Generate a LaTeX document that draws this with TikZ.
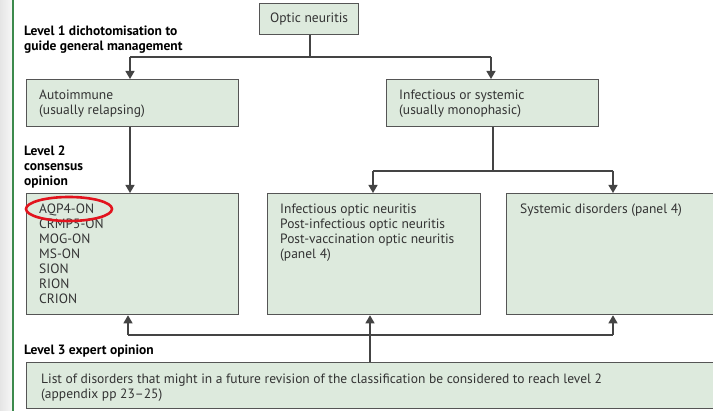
\documentclass[tikz,border=0pt]{standalone}
\usepackage{fontspec}
\setmainfont{PT Sans}
\usetikzlibrary{arrows.meta,shapes.geometric}
\definecolor{boxfill}{HTML}{DDEADD}
\definecolor{boxline}{HTML}{555555}
\definecolor{conn}{HTML}{444444}
\definecolor{framegreen}{HTML}{3C8A4C}
\definecolor{markred}{HTML}{E2141E}
\definecolor{txt}{HTML}{333333}
\tikzset{
  x=1pt, y=-1pt,
  box/.style={draw=boxline, line width=1.3pt, fill=boxfill, anchor=north west, inner sep=0pt},
  boxtext/.style={anchor=north west, inner sep=0pt, align=left, text=txt, font=\fontsize{13.5}{15}\selectfont},
  lvl/.style={anchor=north west, inner sep=0pt, align=left, text=black, font=\fontsize{13.5}{15}\selectfont\bfseries},
  conline/.style={draw=conn, line width=1.2pt},
  arr/.style={conline, -{Triangle[width=9pt,length=8pt]}},
}
\begin{document}
\begin{tikzpicture}
\useasboundingbox (0,0) rectangle (713,411);
\clip (0,0) rectangle (713,411);
\fill[white] (0,0) rectangle (713,411);
% left strip
\shade[left color=gray!20, right color=gray!7] (0,0) rectangle (12,411);
\draw[framegreen, line width=1.4pt] (13,0) -- (13,411);

% level 1
\node[box, minimum width=99pt, minimum height=31pt] (opt) at (259,3) {};
\node[text=txt, font=\fontsize{13.5}{15}\selectfont, inner sep=0pt] (optt) at (opt.center) {Optic neuritis};

\node[box, minimum width=212pt, minimum height=47pt] (auto) at (26,79) {};
\node[boxtext] (autot) at (39,90) {Autoimmune\\(usually relapsing)};

\node[box, minimum width=212pt, minimum height=47pt] (inf) at (386,79) {};
\node[boxtext] (inft) at (399,90) {Infectious or systemic\\(usually monophasic)};

% level 2
\node[box, minimum width=212pt, minimum height=121pt] (aqp) at (26,193) {};
\node[boxtext] (aqpt) at (39,204) {AQP4-ON\\CRMP5-ON\\MOG-ON\\MS-ON\\SION\\RION\\CRION};

\node[box, minimum width=213pt, minimum height=121pt] (mid) at (267,193) {};
\node[boxtext] (midt) at (280,204) {Infectious optic neuritis\\Post-infectious optic neuritis\\Post-vaccination optic neuritis\\(panel 4)};

\node[box, minimum width=214pt, minimum height=121pt] (sys) at (506,193) {};
\node[boxtext] (syst) at (520,204) {Systemic disorders (panel 4)};

% level 3
\node[box, minimum width=700pt, minimum height=46pt] (bot) at (26,362) {};
\node[boxtext] (bott) at (41,374) {List of disorders that might in a future revision of the classification be considered to reach level 2\\(appendix pp 23--25)};

% level labels
\node[lvl] (l1) at (24,26) {Level 1 dichotomisation to\\guide general management};
\node[lvl] (l2) at (24,146) {Level 2\\consensus\\opinion};
\node[lvl] (l3) at (24,345) {Level 3 expert opinion};

% connectors
\coordinate (j1) at (310,57);
\coordinate (a1) at (130,57);
\coordinate (a2) at (491,57);
\coordinate (j2) at (493,171);
\coordinate (b1) at (373,171);
\coordinate (b2) at (613,171);
\coordinate (j3) at (370,335);
\coordinate (c1) at (128,335);
\coordinate (c2) at (613,335);
\draw[conline] (opt.south -| j1) -- (j1);
\draw[conline] (a1) -- (a2);
\draw[arr] (a1) -- (a1 |- auto.north);
\draw[arr] (a2) -- (a2 |- inf.north);
\draw[arr] (a1 |- auto.south) -- (a1 |- aqp.north);
\draw[conline] (inf.south -| j2) -- (j2);
\draw[conline] (b1) -- (b2);
\draw[arr] (b1) -- (b1 |- mid.north);
\draw[arr] (b2) -- (b2 |- sys.north);
\draw[arr] (bot.north -| j3) -- (mid.south -| j3);
\draw[conline] (c1) -- (c2);
\draw[arr] (c1) -- (c1 |- aqp.south);
\draw[arr] (c2) -- (c2 |- sys.south);

% red marker
\node[draw=markred, line width=2.6pt, ellipse, minimum width=86pt, minimum height=24pt, inner sep=0pt] (mark) at (69,209) {};
\end{tikzpicture}
\end{document}
